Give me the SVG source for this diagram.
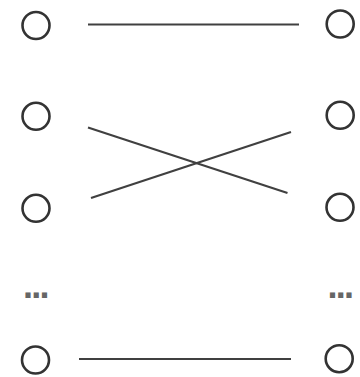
<svg xmlns="http://www.w3.org/2000/svg" width="360" height="377" viewBox="0 0 360 377">
<style>
.n{fill:none;stroke:#333;stroke-width:2.6}
.e{stroke:#404040;stroke-width:2.2;fill:none}
.d{font-family:"Liberation Sans",Arial,sans-serif;font-weight:bold;font-size:36px;fill:#666;letter-spacing:-1.7px}
</style>
<rect width="360" height="377" fill="#fff"/>
<g id="connectors">
<line class="e" x1="88" y1="24.5" x2="299" y2="24.5"/>
<line class="e" x1="88" y1="127.5" x2="287.5" y2="193"/>
<line class="e" x1="91" y1="198" x2="291" y2="132"/>
<line class="e" x1="79" y1="359" x2="291" y2="359"/>
</g>
<g id="L1"><circle class="n" cx="36" cy="25.5" r="13.5"/></g>
<g id="L2"><circle class="n" cx="36" cy="116.3" r="13.5"/></g>
<g id="L3"><circle class="n" cx="36" cy="208.3" r="13.5"/></g>
<g id="Ldots"><text class="d" x="23" y="298">...</text></g>
<g id="L4"><circle class="n" cx="35.5" cy="360" r="13.5"/></g>
<g id="R1"><circle class="n" cx="340.2" cy="24" r="13.5"/></g>
<g id="R2"><circle class="n" cx="340.2" cy="115.3" r="13.5"/></g>
<g id="R3"><circle class="n" cx="340" cy="207.3" r="13.5"/></g>
<g id="Rdots"><text class="d" x="327.4" y="298">...</text></g>
<g id="R4"><circle class="n" cx="339.2" cy="358.7" r="13.5"/></g>
</svg>
